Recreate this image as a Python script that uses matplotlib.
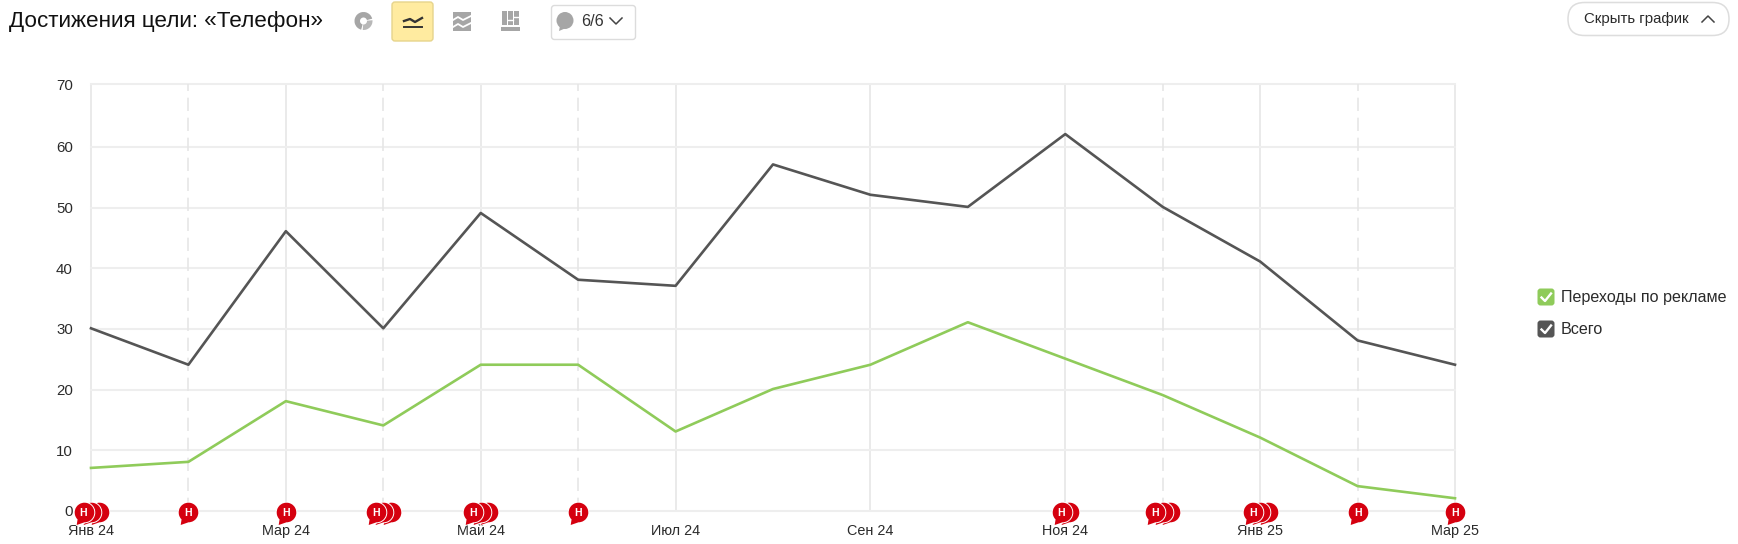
import numpy as np
import matplotlib
matplotlib.use("Agg")
import matplotlib.pyplot as plt
from matplotlib.path import Path
from matplotlib.patches import FancyBboxPatch, Wedge, Circle, Polygon, Rectangle
from matplotlib.transforms import offset_copy

months = ["Янв 24", "Фев 24", "Мар 24", "Апр 24", "Май 24", "Июн 24", "Июл 24", "Авг 24",
          "Сен 24", "Окт 24", "Ноя 24", "Дек 24", "Янв 25", "Фев 25", "Мар 25"]
ads = [7, 8, 18, 14, 24, 24, 13, 20, 24, 31, 25, 19, 12, 4, 2]
total = [30, 24, 46, 30, 49, 38, 37, 57, 52, 50, 62, 50, 41, 28, 24]
notes = [3, 1, 1, 3, 3, 1, 0, 0, 0, 0, 2, 3, 3, 1, 1]
series_names = ["Переходы по рекламе", "Всего"]
ytick_pos = [0, 10, 20, 30, 40, 50, 60, 70.3]
ytick_labels = ["0", "10", "20", "30", "40", "50", "60", "70"]
title = "Достижения цели: «Телефон»"

W, H = 1738, 544
GREEN, DARK, GRID, VGRID, RED = "#8fcb5a", "#555555", "#eeeeee", "#e6e6e6", "#d5000f"
TXT = "#2b2b2b"
plt.rcParams["font.family"] = ["Liberation Sans", "DejaVu Sans"]
fig = plt.figure(figsize=(W / 100, H / 100), dpi=100, facecolor="white")

ui = fig.add_axes([0, 0, 1, 1], zorder=0)
ui.set_xlim(0, W); ui.set_ylim(H, 0); ui.axis("off")

L, R, T, B = 91, 1455, 84.3, 511
ax = fig.add_axes([L / W, 1 - B / H, (R - L) / W, (B - T) / H], zorder=1)
ax.patch.set_alpha(0)
x = np.arange(len(months))
ax.set_xlim(0, len(months) - 1)
ax.set_ylim(0, 70.3)
for s in ax.spines.values():
    s.set_visible(False)
ax.set_xticks(x[::2]); ax.set_xticklabels(months[::2], fontsize=10.4, color=TXT, va="baseline")
ax.set_yticks(ytick_pos); ax.set_yticklabels(ytick_labels)
ax.tick_params(axis="both", which="both", length=0)
ax.tick_params(axis="x", pad=17.3)
ax.tick_params(axis="y", pad=13, labelsize=10.8, labelcolor=TXT)
ax.set_axisbelow(True)
ax.grid(True, axis="y", color=GRID, lw=1.5)
ax.grid(True, axis="x", which="major", color=VGRID, lw=1.2)
dashed = [xi for xi, n in zip(x[1::2], notes[1::2]) if n > 0]
ax.vlines(dashed, 0, 70.3, color=VGRID, lw=1.2, ls=(0, (8, 4)), zorder=1, clip_on=False)
for gl in ax.get_xgridlines() + ax.get_ygridlines():
    gl.set_clip_on(False)
line_tr = offset_copy(ax.transData, fig, x=0, y=0.6, units="dots")
ax.plot(x, ads, color=GREEN, lw=1.9, clip_on=False, zorder=3, transform=line_tr)
ax.plot(x, total, color=DARK, lw=1.9, clip_on=False, zorder=3, transform=line_tr)

r = 9.8
arc = Path.arc(265, 585)
verts = np.vstack([arc.vertices * r, [[-7.8, -12.5]], [[0, -r]], [[0, -r]]])
codes = list(arc.codes) + [Path.LINETO, Path.LINETO, Path.CLOSEPOLY]
bubble = Path(verts, codes)
ms = 2 * np.abs(verts).max() * 0.72
step = 7.5
for xi, n in zip(x, notes):
    for k in range(n - 1, -1, -1):
        dx = (k - (n - 1) / 2) * step
        tr = offset_copy(ax.transData, fig, x=dx, y=-0.7, units="dots")
        z = 5 + (n - k)
        ax.plot([xi], [0], marker=bubble, ms=ms, mfc="white", mec="white", mew=1.4, ls="none",
                transform=tr, clip_on=False, zorder=z)
        ax.plot([xi], [0], marker=bubble, ms=ms, mfc=RED, mec="none", mew=0, ls="none",
                transform=tr, clip_on=False, zorder=z + 0.1)
        if k == 0:
            ax.text(xi, 0, "Н", transform=tr, color="white", fontsize=7.6, fontweight="bold",
                    ha="center", va="center_baseline", clip_on=False, zorder=z + 0.2)

ui.text(9, 21, title, fontsize=16.2, color="#111111", va="center", ha="left")
GI = "#a6a6a6"
ui.add_patch(Wedge((363.5, 21), 9, 105, 345, width=5.5, fc=GI, ec="none"))
ui.add_patch(Wedge((363.5, 21), 9, 355, 95, width=5.5, fc="#b8b8b8", ec="none"))
ui.add_patch(FancyBboxPatch((392, 2), 41, 39, boxstyle="round,pad=0,rounding_size=3",
                            fc="#ffeba0", ec="#e6d48c", lw=1))
ui.plot([404, 410, 415, 422], [21, 19, 22, 18], color="#333333", lw=1.7)
ui.plot([404, 422], [27, 27], color="#333333", lw=1.4)
ui.add_patch(Rectangle((453, 12), 18, 19, fc=GI, ec="none"))
for y0 in (18, 25):
    ui.plot([453, 458, 463, 471], [y0 + 2, y0 - 1, y0 + 2, y0 - 2], color="white", lw=1.3)
for bx in (502, 508, 514):
    ui.add_patch(Rectangle((bx, 11), 5, 14, fc=GI, ec="none"))
ui.plot([508, 513], [20, 20], color="white", lw=1)
ui.plot([514, 519], [17, 17], color="white", lw=1)
ui.add_patch(Rectangle((501, 27), 19, 4, fc=GI, ec="none"))
ui.add_patch(FancyBboxPatch((551.5, 5.5), 84, 34, boxstyle="round,pad=0,rounding_size=3",
                            fc="white", ec="#dcdcdc", lw=1))
ui.add_patch(Circle((565, 20.5), 8.5, fc=GI, ec="none"))
ui.add_patch(Polygon([[560, 26], [566, 28], [559, 31]], fc=GI, ec="none"))
ui.text(581.5, 21.5, "6/6", fontsize=11.6, color="#333333", va="center", ha="left")
ui.plot([610, 616, 622], [18, 24, 18], color="#444444", lw=1.1)

ui.add_patch(FancyBboxPatch((1568, 2.5), 161, 33, boxstyle="round,pad=0,rounding_size=16.5",
                            fc="white", ec="#dddddd", lw=1.1))
ui.text(1584, 19.5, "Скрыть график", fontsize=10.8, color=TXT, va="center", ha="left")
ui.plot([1702, 1708, 1714], [22, 16, 22], color="#444444", lw=1.1)

for yc, col, name in zip((297, 329), (GREEN, DARK), series_names):
    ui.add_patch(FancyBboxPatch((1537.5, yc - 8.5), 17, 17, boxstyle="round,pad=0,rounding_size=3",
                                fc=col, ec="none"))
    ui.plot([1541.5, 1545, 1551], [yc + 0.5, yc + 4, yc - 3.5], color="white", lw=1.7)
    ui.text(1561, yc + 0.5, name, fontsize=11.6, color=TXT, va="center", ha="left")

fig.savefig("out.png", dpi=100, facecolor="white")
